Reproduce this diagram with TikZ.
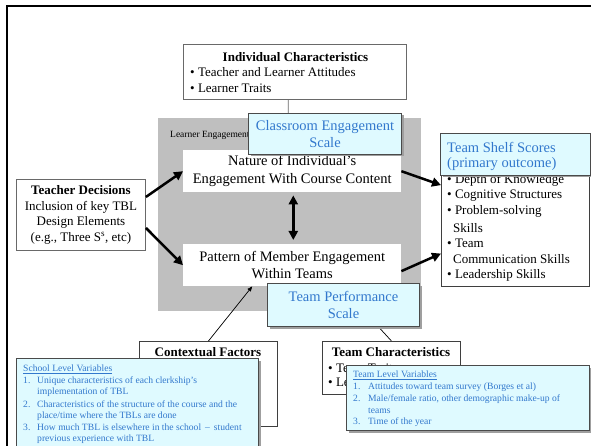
\documentclass[tikz,border=0pt]{standalone}
\usepackage{fontspec}
\setmainfont{Liberation Serif}
\usetikzlibrary{shadows,arrows.meta,calc}
\definecolor{cfill}{RGB}{223,250,255}
\definecolor{ctext}{RGB}{50,120,205}
\definecolor{garea}{RGB}{191,191,191}
\definecolor{bord}{RGB}{105,105,105}
\begin{document}
\begin{tikzpicture}[x=1pt,y=-1pt,
  wbox/.style={draw=bord,line width=0.9pt,fill=white,inner sep=0pt,anchor=north west},
  plainbox/.style={fill=white,inner sep=0pt,anchor=north west},
  scalebox/.style={draw=bord!70!black,line width=1pt,fill=cfill,inner sep=0pt,anchor=north west,text=ctext,
     drop shadow={shadow xshift=2pt,shadow yshift=-2pt,fill=gray!75,opacity=1}},
  lbl/.style={inner sep=0pt,anchor=west},
  mid/.style={font=\fontsize{13}{15.8}\selectfont},
  midbold/.style={font=\fontsize{13}{15.8}\selectfont\bfseries},
  big/.style={font=\fontsize{14.5}{17.5}\selectfont},
  small/.style={font=\fontsize{9.6}{11.7}\selectfont},
  bigarrow/.style={line width=2.5pt,-{Triangle[length=9pt,width=9pt]}},
  thinarrow/.style={line width=0.7pt,-{Triangle[length=5pt,width=4pt]}}
]
\useasboundingbox (0,0) rectangle (591,446);
\fill[white] (0,0) rectangle (591,446);
\draw[line width=2pt,line join=miter] (7,446) -- (7,6) -- (591,6);

% learner engagement area
\node[fill=garea,minimum width=263pt,minimum height=193pt,inner sep=0pt,anchor=north west] (engage) at (158,118) {};
\node[lbl,font=\fontsize{9.5}{11}\selectfont] (englabel) at (170,135) {Learner Engagement};
\node[plainbox,minimum width=218pt,minimum height=42pt,big,align=center,font=\fontsize{14.5}{18}\selectfont] (nat) at (183,150)
  {Nature of Individual’s\\Engagement With Course Content};
\node[plainbox,minimum width=218pt,minimum height=42pt,big,align=center,font=\fontsize{14.5}{17.5}\selectfont] (pat) at (183,244)
  {Pattern of Member Engagement\\Within Teams};
\draw[line width=2.5pt,{Triangle[length=9pt,width=9pt]}-{Triangle[length=9pt,width=9pt]},shorten <=3pt,shorten >=4pt]
  ($(nat.south west)!0.505!(nat.south east)$) -- ($(pat.north west)!0.505!(pat.north east)$);

% individual characteristics
\node[wbox,minimum width=223pt,minimum height=55pt] (indiv) at (183,44) {};
\node[inner sep=0pt,midbold] (indivT) at (295.5,56.7) {Individual Characteristics};
\node[lbl,mid] (indiv1) at (190,72.5) {• Teacher and Learner Attitudes};
\node[lbl,mid] (indiv2) at (190,88) {• Learner Traits};
\draw[line width=0.9pt,draw=bord,-{Triangle[length=5pt,width=4pt]}]
  ($(indiv.south west)!0.47!(indiv.south east)$) -- ($(nat.north west)!0.482!(nat.north east)$);

\node[scalebox,minimum width=153pt,minimum height=41pt,big,align=center] (cscale) at (248,113)
  {Classroom Engagement\\Scale};

% teacher decisions
\node[wbox,minimum width=129pt,minimum height=71pt,align=center,font=\fontsize{13}{15.5}\selectfont] (teach) at (16,179)
  {\textbf{Teacher Decisions}\\Inclusion of key TBL\\Design Elements\\(e.g., Three S\textsuperscript{s}, etc)};
\draw[bigarrow] ($(teach.north east)!0.25!(teach.south east)$) -- (nat.west);
\draw[bigarrow] ($(teach.north east)!0.68!(teach.south east)$) -- (pat.west);

% outcome
\node[wbox,draw=bord!60!black,minimum width=148pt,minimum height=114pt] (outc) at (441,172) {};
\node[lbl,mid] (out1) at (447,180) {• Depth of Knowledge};
\node[lbl,mid] (out2) at (447,195.9) {• Cognitive Structures};
\node[lbl,mid] (out3) at (447,211.8) {• Problem-solving};
\node[lbl,mid] (out4) at (453,227.7) {Skills};
\node[lbl,mid] (out5) at (447,243.6) {• Team};
\node[lbl,mid] (out6) at (453,259.5) {Communication Skills};
\node[lbl,mid] (out7) at (447,275.4) {• Leadership Skills};
\node[scalebox,minimum width=150pt,minimum height=42pt] (shelf) at (440,133) {};
\node[lbl,big,text=ctext] (shelf1) at (447,147) {Team Shelf Scores};
\node[lbl,big,text=ctext] (shelf2) at (447,164) {(primary outcome)};
\draw[bigarrow] (nat.east) -- ($(outc.north west)!0.114!(outc.south west)$);
\draw[bigarrow] ($(pat.north east)!0.64!(pat.south east)$) -- ($(outc.north west)!0.71!(outc.south west)$);

% contextual factors
\node[wbox,draw=bord!60!black,minimum width=138pt,minimum height=85pt] (context) at (139,341) {};
\node[inner sep=0pt,midbold] (contextT) at (208,352) {Contextual Factors};
\draw[thinarrow] (context.north) -- ($(pat.south west)!0.317!(pat.south east)$);

% team characteristics
\node[wbox,draw=bord!60!black,minimum width=138pt,minimum height=53pt] (teamc) at (322,341) {};
\node[inner sep=0pt,midbold] (teamcT) at (391,352) {Team Characteristics};
\node[lbl,mid] (teamc1) at (328,368) {• Team Traits};
\node[lbl,mid] (teamc2) at (328,383) {• Leadership};
\draw[thinarrow] (teamc.north) -- ($(pat.south west)!0.725!(pat.south east)$);

\node[scalebox,minimum width=152pt,minimum height=43pt,big,align=center] (tscale) at (267,283)
  {Team Performance\\Scale};

% school level variables
\node[scalebox,minimum width=242pt,minimum height=95pt] (school) at (16,358) {};
\node[lbl,small,text=ctext] (school0) at (23,369) {\underline{School Level Variables}};
\node[lbl,small,text=ctext] (school1) at (23,381) {\makebox[14pt][l]{1.}Unique characteristics of each clerkship’s};
\node[lbl,small,text=ctext] (school2) at (37,392.5) {implementation of TBL};
\node[lbl,small,text=ctext] (school3) at (23,404) {\makebox[14pt][l]{2.}Characteristics of the structure of the course and the};
\node[lbl,small,text=ctext] (school4) at (37,415.7) {place/time where the TBLs are done};
\node[lbl,small,text=ctext] (school5) at (23,427.4) {\makebox[14pt][l]{3.}How much TBL is elsewhere in the school \,–\, student};
\node[lbl,small,text=ctext] (school6) at (37,439) {previous experience with TBL};

% team level variables
\node[scalebox,minimum width=243pt,minimum height=65pt] (teaml) at (346,365) {};
\node[lbl,small,text=ctext] (teaml0) at (353,375) {\underline{Team Level Variables}};
\node[lbl,small,text=ctext] (teaml1) at (353,387) {\makebox[15pt][l]{1.}Attitudes toward team survey (Borges et al)};
\node[lbl,small,text=ctext] (teaml2) at (353,399) {\makebox[15pt][l]{2.}Male/female ratio, other demographic make-up of};
\node[lbl,small,text=ctext] (teaml3) at (368,410.7) {teams};
\node[lbl,small,text=ctext] (teaml4) at (353,422) {\makebox[15pt][l]{3.}Time of the year};
\end{tikzpicture}
\end{document}
